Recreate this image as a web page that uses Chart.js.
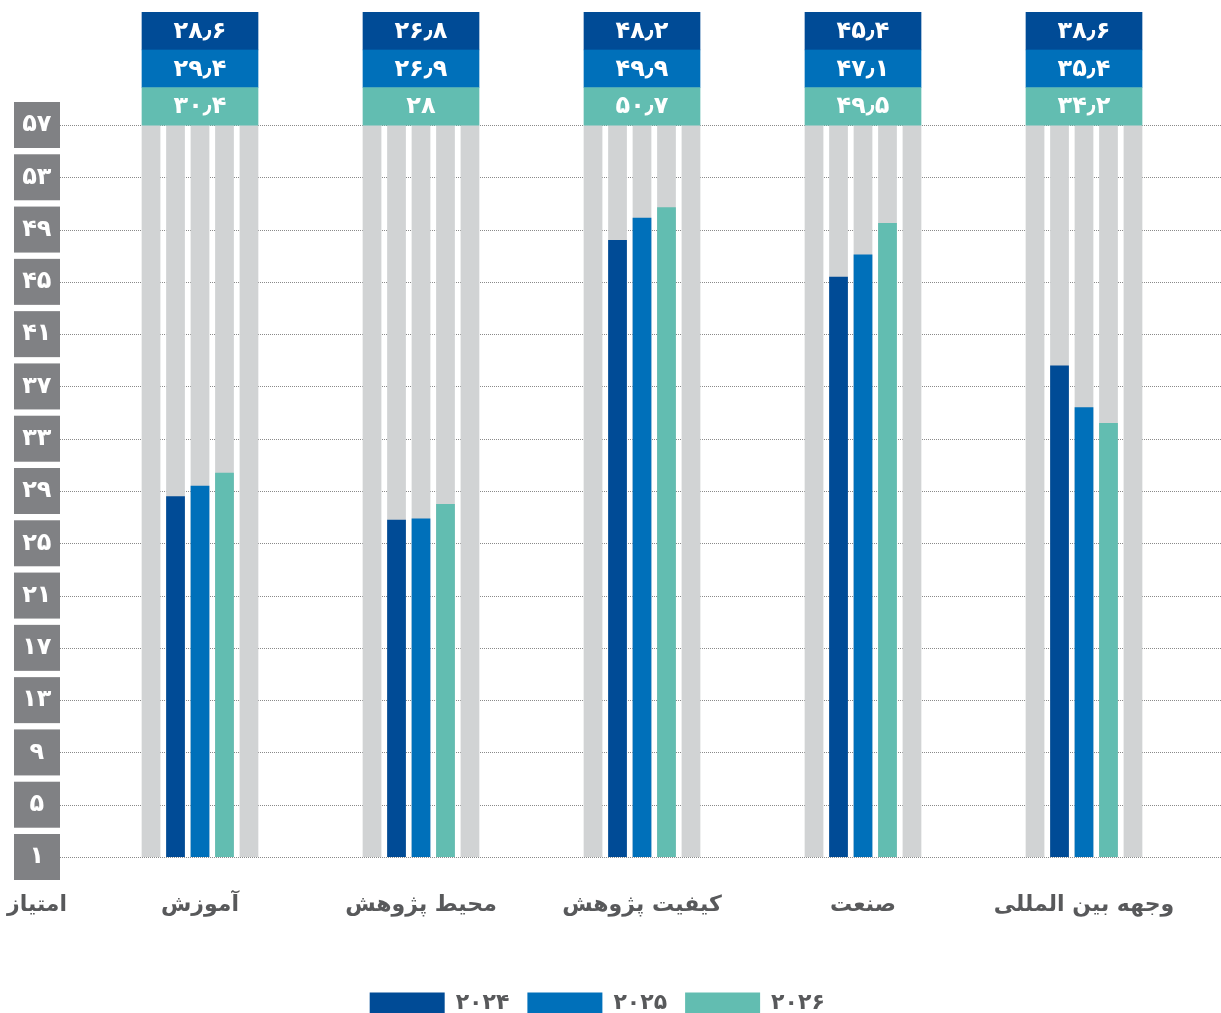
<!DOCTYPE html>
<html lang="fa">
<head>
<meta charset="utf-8">
<script src="https://cdn.jsdelivr.net/npm/chart.js@4.4.1/dist/chart.umd.min.js"></script>
<style>
    html, body { margin: 0; padding: 0; background: #fff; }
    #wrap { width: 1221px; height: 1013px; position: relative; }
</style>
</head>
<body>
<div id="wrap"><canvas id="myChart"></canvas></div>
<script>
const categories = ['آموزش', 'محیط پژوهش', 'کیفیت پژوهش', 'صنعت', 'وجهه بین المللی'];
const years = ['2024', '2025', '2026'];
const values2024 = [28.6, 26.8, 48.2, 45.4, 38.6];
const values2025 = [29.4, 26.9, 49.9, 47.1, 35.4];
const values2026 = [30.4, 28, 50.7, 49.5, 34.2];
const yMin = 1;
const yMax = 57;
const yStep = 4;
const yTitle = 'امتیاز';

const colors = ['#004b96', '#0070ba', '#62bdb1'];
const grayCol = '#d1d3d4';
const textGray = '#58595b';
const fontFamily = '"DejaVu Sans", "Noto Sans", sans-serif';

const faDigits = '۰۱۲۳۴۵۶۷۸۹';
const toFa = (v) => String(v).replace(/\d/g, d => faDigits[d]).replace('.', '٫');

const series = [values2024, values2025, values2026];

const grayColumn = (s) => ({
    label: 'bg' + s,
    data: categories.map(() => yMax),
    backgroundColor: grayCol,
    stack: 's' + s,
    base: yMin
});

// slot order comes from first appearance of each stack id,
// drawing goes last -> first so the coloured bars sit on the gray ones
const datasets = [grayColumn(0)];
series.forEach((vals, i) => {
    datasets.push({
        label: toFa(years[i]),
        data: vals,
        backgroundColor: colors[i],
        stack: 's' + (i + 1),
        base: yMin
    });
});
for (let s = 1; s < 5; s++) {
    datasets.push(grayColumn(s));
}

const decorPlugin = {
    id: 'decor',
    beforeDraw(chart) {
        const ctx = chart.ctx;
        const y = chart.scales.y;
        ctx.save();
        ctx.fillStyle = '#808184';
        y.ticks.forEach(t => {
            const py = y.getPixelForValue(t.value);
            ctx.fillRect(14, py - 23, 46, 46);
        });
        ctx.restore();
    },
    beforeDatasetsDraw(chart) {
        const ctx = chart.ctx;
        const y = chart.scales.y;
        ctx.save();
        // dotted grid lines
        ctx.strokeStyle = '#8a8a8a';
        ctx.lineWidth = 1;
        ctx.setLineDash([1, 1]);
        y.ticks.forEach(t => {
            const py = Math.round(y.getPixelForValue(t.value)) + 0.5;
            ctx.beginPath();
            ctx.moveTo(60, py);
            ctx.lineTo(chart.width, py);
            ctx.stroke();
        });
        ctx.restore();
    },
    afterDatasetsDraw(chart) {
        const ctx = chart.ctx;
        const area = chart.chartArea;
        const first = chart.getDatasetMeta(0);
        const last = chart.getDatasetMeta(datasets.length - 1);
        const rowH = (area.top - 12) / 3;
        ctx.save();
        ctx.textAlign = 'center';
        ctx.textBaseline = 'middle';
        ctx.font = 'bold 24px ' + fontFamily;
        categories.forEach((c, i) => {
            const a = first.data[i];
            const b = last.data[i];
            const left = a.x - a.width / 2;
            const right = b.x + b.width / 2;
            series.forEach((vals, r) => {
                const top = 12 + r * rowH;
                ctx.fillStyle = colors[r];
                ctx.fillRect(left, top, right - left, rowH + 0.5);
                ctx.fillStyle = '#ffffff';
                ctx.fillText(toFa(vals[i]), (left + right) / 2, top + rowH / 2 + 1);
            });
        });
        // axis caption under the tick boxes
        ctx.fillStyle = textGray;
        ctx.font = 'bold 22px ' + fontFamily;
        ctx.fillText(yTitle, 37, 905);
        ctx.restore();
    }
};

const ctx = document.getElementById('myChart').getContext('2d');

const myChart = new Chart(ctx, {
    type: 'bar',
    data: {
        labels: categories,
        datasets: datasets
    },
    options: {
        responsive: true,
        maintainAspectRatio: false,
        animation: false,
        layout: {
            padding: {top: 125, right: 26.5, left: 0, bottom: -11}
        },
        datasets: {
            bar: {
                categoryPercentage: 0.554,
                barPercentage: 0.765
            }
        },
        plugins: {
            legend: {
                position: 'bottom',
                labels: {
                    boxWidth: 75,
                    boxHeight: 21,
                    padding: 18,
                    color: textGray,
                    font: {family: fontFamily, size: 22, weight: 'bold'},
                    filter: (item) => !String(item.text).startsWith('bg')
                }
            },
            tooltip: {enabled: false}
        },
        scales: {
            x: {
                grid: {display: false},
                border: {display: false},
                afterFit: (scale) => { scale.height = 117; },
                ticks: {
                    color: textGray,
                    padding: 27,
                    font: {family: fontFamily, size: 22, weight: 'bold'}
                }
            },
            y: {
                stacked: false,
                min: yMin,
                max: yMax,
                afterFit: (scale) => { scale.width = 89.5; },
                grid: {display: false},
                border: {display: false},
                ticks: {
                    stepSize: yStep,
                    color: '#ffffff',
                    crossAlign: 'center',
                    padding: 30,
                    font: {family: fontFamily, size: 24, weight: 'bold'},
                    callback: (value) => toFa(value)
                }
            }
        }
    },
    plugins: [decorPlugin]
});
</script>
</body>
</html>
